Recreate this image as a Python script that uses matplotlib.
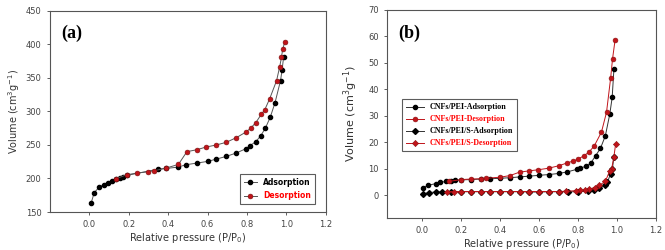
import numpy as np
import matplotlib.pyplot as plt

# (a) isotherm
ads_x = [0.01, 0.025, 0.05, 0.073, 0.093, 0.113, 0.135, 0.158, 0.17, 0.19,
         0.35, 0.39, 0.45, 0.49, 0.545, 0.6, 0.645, 0.695, 0.745, 0.795,
         0.815, 0.845, 0.87, 0.893, 0.918, 0.942, 0.97, 0.978, 0.986]
ads_y = [164, 179, 187, 191, 194, 197, 199, 201, 202.6, 204.6,
         214, 215, 217, 220.5, 223, 225.5, 229, 233, 238, 244.5,
         249, 255, 264, 275, 291.5, 313, 346, 362, 382]
des_x = [0.991, 0.981, 0.975, 0.966, 0.95, 0.915, 0.89, 0.873, 0.845, 0.818,
         0.793, 0.746, 0.695, 0.644, 0.593, 0.546, 0.495, 0.452, 0.39, 0.33,
         0.297, 0.24, 0.19, 0.135]
des_y = [403, 393, 381, 367, 346, 319, 302.5, 296, 283.5, 275,
         269, 261, 254, 250, 247, 243, 240, 221, 215.6, 211.6,
         210, 208, 205.6, 199.7]

# (b) isotherms
pei_ads_x = [0.007, 0.03, 0.07, 0.094, 0.12, 0.146, 0.17, 0.2, 0.25, 0.3, 0.35,
             0.4, 0.45, 0.5, 0.55, 0.6, 0.65, 0.7, 0.745, 0.795, 0.81, 0.84,
             0.865, 0.89, 0.915, 0.94, 0.963, 0.975, 0.984]
pei_ads_y = [3.0, 3.8, 4.5, 4.9, 5.3, 5.4, 5.7, 5.9, 6.0, 6.2, 6.3,
             6.5, 6.7, 7.0, 7.3, 7.6, 7.9, 8.3, 8.9, 9.9, 10.3, 11.0,
             12.2, 15.0, 17.8, 22.5, 30.8, 37.0, 47.7]
pei_des_x = [0.99, 0.977, 0.967, 0.946, 0.92, 0.883, 0.855, 0.83, 0.8, 0.775,
             0.745, 0.7, 0.65, 0.595, 0.55, 0.5, 0.45, 0.4, 0.33, 0.3, 0.25,
             0.2, 0.137]
pei_des_y = [58.7, 51.6, 44.2, 31.4, 23.9, 18.7, 16.3, 15.0, 13.7, 13.0,
             12.3, 11.2, 10.3, 9.7, 9.3, 8.8, 7.5, 6.9, 6.5, 6.3, 6.2,
             6.0, 5.3]
peis_ads_x = [0.007, 0.034, 0.07, 0.1, 0.15, 0.2, 0.25, 0.3, 0.35, 0.4, 0.45,
              0.5, 0.55, 0.6, 0.65, 0.7, 0.75, 0.8, 0.85, 0.88, 0.91, 0.94,
              0.95, 0.967, 0.976, 0.984]
peis_ads_y = [0.6, 1.1, 1.3, 1.3, 1.4, 1.4, 1.4, 1.4, 1.4, 1.4, 1.4,
              1.4, 1.3, 1.3, 1.4, 1.4, 1.4, 1.4, 1.6, 2.1, 2.8, 3.8,
              4.9, 8.2, 9.9, 14.7]
peis_des_x = [0.993, 0.984, 0.972, 0.963, 0.94, 0.91, 0.886, 0.857, 0.835, 0.81,
              0.787, 0.74, 0.7, 0.65, 0.6, 0.55, 0.5, 0.45, 0.4, 0.35, 0.3,
              0.25, 0.2, 0.165, 0.13]
peis_des_y = [19.5, 14.7, 9.9, 9.4, 5.3, 3.9, 3.0, 2.4, 2.1, 1.9,
              1.8, 1.6, 1.5, 1.5, 1.5, 1.5, 1.5, 1.5, 1.5, 1.5, 1.5,
              1.5, 1.5, 1.5, 1.4]

red = '#c0141a'
grey = '#555555'

fig = plt.figure(figsize=(6.65, 2.5), dpi=100)
ax1 = fig.add_axes([0.075, 0.152, 0.415, 0.804])
ax2 = fig.add_axes([0.582, 0.128, 0.4045, 0.832])

ax1.plot(ads_x, ads_y, '-o', color=grey, lw=0.7, ms=3, mfc='black', mec='black', label='Adsorption')
ax1.plot(des_x, des_y, '-o', color=grey, lw=0.7, ms=3.5, mfc=red, mec='#7a1010', mew=0.4, label='Desorption')
ax1.set_xlim(-0.2, 1.2)
ax1.set_ylim(150, 450)
ax1.set_xticks(np.arange(0, 1.21, 0.2))
ax1.set_yticks(np.arange(150, 451, 50))
ax1.set_xlabel('Relative pressure (P/P$_0$)', fontsize=7, labelpad=1, color='#333333')
ax1.set_ylabel('Volume (cm$^3$g$^{-1}$)', fontsize=7, labelpad=3, color='#333333')
ax1.text(0.04, 0.93, '(a)', transform=ax1.transAxes, fontsize=13, fontweight='bold',
         family='Liberation Serif', va='top')
leg1 = ax1.legend(loc='lower right', fontsize=5.5, frameon=True, fancybox=False,
                  edgecolor='#333333', handlelength=1.8, borderpad=0.5, labelspacing=0.6,
                  bbox_to_anchor=(0.975, 0.02))
leg1.get_frame().set_linewidth(0.8)
leg1.get_texts()[1].set_color('red')
for t in leg1.get_texts():
    t.set_fontweight('bold')

ax2.plot(pei_ads_x, pei_ads_y, '-o', color='#333333', lw=0.7, ms=3, mfc='black', mec='black',
         label='CNFs/PEI-Adsorption')
ax2.plot(pei_des_x, pei_des_y, '-o', color=red, lw=0.7, ms=3.5, mfc=red, mec='#8a1010', mew=0.4,
         label='CNFs/PEI-Desorption')
ax2.plot(peis_ads_x, peis_ads_y, '-D', color='#333333', lw=0.7, ms=3, mfc='black', mec='black',
         label='CNFs/PEI/S-Adsorption')
ax2.plot(peis_des_x, peis_des_y, '-D', color=red, lw=0.7, ms=3.2, mfc=red, mec='#8a1010', mew=0.4,
         label='CNFs/PEI/S-Desorption')
ax2.set_xlim(-0.18, 1.2)
ax2.set_ylim(-8.5, 70)
ax2.set_xticks(np.arange(0, 1.21, 0.2))
ax2.set_yticks(np.arange(0, 71, 10))
ax2.set_xlabel('Relative pressure (P/P$_0$)', fontsize=7, labelpad=1, color='#333333')
ax2.set_ylabel('Volume (cm$^3$g$^{-1}$)', fontsize=8, labelpad=6, color='#333333')
ax2.text(0.04, 0.93, '(b)', transform=ax2.transAxes, fontsize=13, fontweight='bold',
         family='Liberation Serif', va='top')
leg2 = ax2.legend(loc='upper left', bbox_to_anchor=(0.04, 0.59),
                  prop={'family': 'Liberation Serif', 'weight': 'bold', 'size': 5.8},
                  frameon=True, fancybox=False, edgecolor='#333333', handlelength=2.2,
                  borderpad=0.5, labelspacing=0.5)
leg2.get_frame().set_linewidth(0.8)
for i, t in enumerate(leg2.get_texts()):
    if i % 2 == 1:
        t.set_color('red')

for ax in (ax1, ax2):
    ax.tick_params(labelsize=6, length=2.5, width=0.6, colors='#444444', direction='out')
    ax.tick_params(top=False, right=False)
    for s in ax.spines.values():
        s.set_color('#555555')
        s.set_linewidth(0.8)
    ax.xaxis.set_major_formatter(plt.FormatStrFormatter('%.1f'))

fig.savefig('out.png', dpi=100)
